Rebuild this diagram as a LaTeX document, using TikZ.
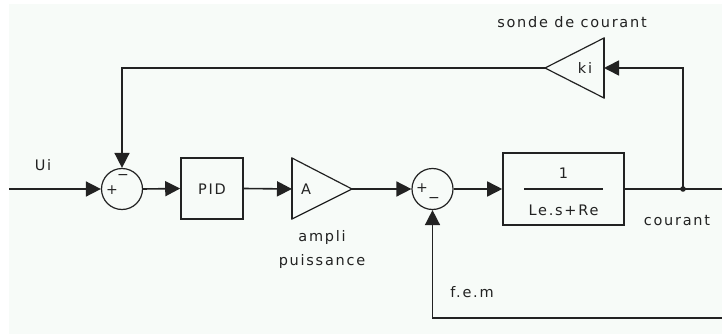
\documentclass[tikz,border=0pt]{standalone}
\usepackage{fontspec}
\usetikzlibrary{arrows.meta}
\newfontfamily\lbl[LetterSpace=12]{DejaVu Sans}
\definecolor{bgc}{HTML}{F7FBF8}
\definecolor{ink}{HTML}{222222}
\begin{document}
\begin{tikzpicture}[x=1pt,y=-1pt,
  wire/.style={draw=ink,line width=1.6pt},
  arr/.style={wire,-{Triangle[length=15pt,width=15pt]}},
  blockbox/.style={draw=ink,line width=1.6pt,rectangle,inner sep=0pt},
  sumnode/.style={draw=ink,line width=1.2pt,circle,minimum size=41pt,inner sep=0pt},
  lab/.style={font=\lbl\fontsize{14.5}{16}\selectfont,text=ink,inner sep=0pt},
  sign/.style={font=\fontspec{DejaVu Sans}\fontsize{14}{16}\selectfont,text=ink,inner sep=0pt}]
\useasboundingbox (0,0) rectangle (722,334);
\fill[white] (0,0) rectangle (722,334);
\fill[bgc] (9,4) rectangle (722,334);

% coordinates
\coordinate (in) at (9,189);
\coordinate (outR) at (722,189);
\coordinate (jn) at (683,189);
\coordinate (jtop) at (683,68);
\coordinate (fbL) at (122,68);
\coordinate (femR) at (722,318);
\coordinate (femL) at (432.5,318);

% summing junctions
\node[sumnode] (s1) at (122,189) {};
\node[sign] (s1p) at (112,190) {+};
\node[sign] (s1m) at (123,177) {−};
\node[sumnode] (s2) at (432.5,189) {};
\node[sign] (s2p) at (422,188) {+};
\node[sign] (s2m) at (434,200) {−};

% PID
\node[blockbox,minimum width=62pt,minimum height=61pt] (pid) at (212,188.5) {};
\node[lab] (pidt) at (212,189) {PID};

% amplifier
\coordinate (ampA) at (292,158);
\coordinate (ampB) at (292,219);
\coordinate (ampin) at (292,189);
\coordinate (ampout) at (352,189);
\draw[draw=ink,line width=1.2pt,line join=miter] (ampA) -- (ampout) -- (ampB) -- cycle;
\draw[draw=ink,line width=1.6pt] (ampA) -- (ampB);
\node[lab] (ampt) at (306,189) {A};

% plant block
\node[blockbox,minimum width=121pt,minimum height=72pt] (blk) at (563.5,189) {};
\draw[draw=ink,line width=1.6pt] ([xshift=-39.5pt]blk.center) -- ([xshift=39.5pt]blk.center);
\node[lab] (num) at (563.5,173) {1};
\node[lab] (den) at (563.5,210) {Le.s+Re};

% current probe
\coordinate (kiA) at (604,38);
\coordinate (kiB) at (604,98);
\coordinate (kiin) at (604,68);
\coordinate (kiout) at (545,68);
\draw[draw=ink,line width=1.2pt,line join=miter] (kiA) -- (kiout) -- (kiB) -- cycle;
\draw[draw=ink,line width=1.6pt] (kiA) -- (kiB);
\node[lab] (kit) at (585,68) {ki};

% connectors
\draw[arr] (in) -- (s1.west);
\draw[arr] (s1.east) -- (pid.west);
\draw[arr] (pid.east) -- (ampin);
\draw[arr] (ampout) -- (s2.west);
\draw[arr] (s2.east) -- (blk.west);
\draw[wire] (blk.east) -- (jn) -- (outR);
\draw[arr] (jn) -- (jtop) -- (kiin);
\draw[arr] (kiout) -- (fbL) -- (s1.north);
\draw[arr] (femR) -- (femL) -- (s2.south);
\fill[ink] (jn) circle (2.8pt);

% labels
\node[lab] (ui) at (43,165) {Ui};
\node[lab] (sonde) at (572,22) {sonde de courant};
\node[lab] (ampli) at (322,237) {ampli};
\node[lab] (puis) at (322,261) {puissance};
\node[lab] (cour) at (677,221) {courant};
\node[lab] (fem) at (472,292) {f.e.m};
\end{tikzpicture}
\end{document}
